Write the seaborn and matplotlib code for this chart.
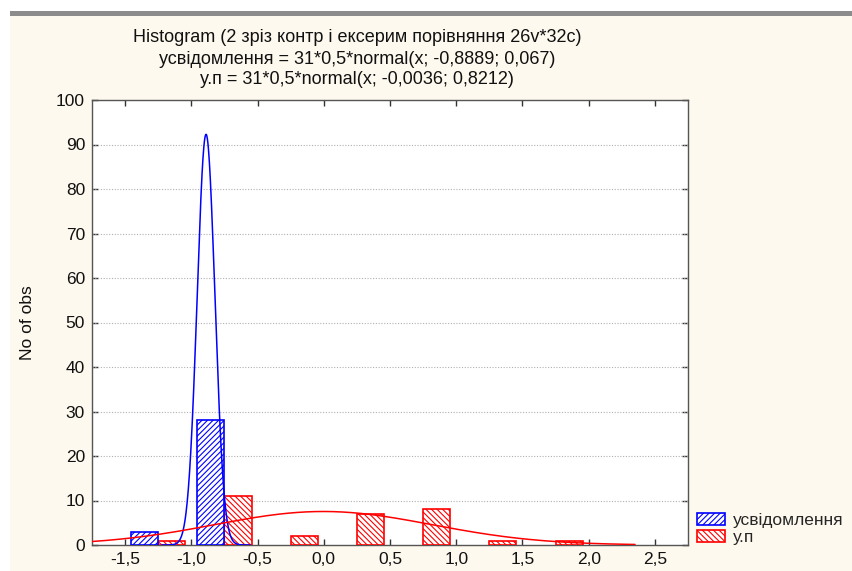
import numpy as np
import pandas as pd
import matplotlib
matplotlib.use("Agg")
import matplotlib.pyplot as plt
import seaborn as sns
from matplotlib.patches import Patch, Rectangle
from matplotlib.ticker import FuncFormatter

# ---- data ----
bin_edges = [-1.5, -1.0, -0.5, 0.0, 0.5, 1.0, 1.5, 2.0, 2.5]
bin_centers = [-1.25, -0.75, -0.25, 0.25, 0.75, 1.25, 1.75, 2.25]
counts_usv = [3, 28, 0, 0, 0, 0, 0, 0]     # усвідомлення
counts_up = [1, 11, 2, 7, 8, 1, 1, 0]      # у.п
series_names = ["усвідомлення", "у.п"]
series_colors = ["#0000FF", "#FF0000"]
series_hatches = ["//////", "\\\\\\\\\\\\"]
fit_n = 31
fit_binw = 0.5
fit_mean = [-0.8889, -0.0036]
fit_sd = [0.067, 0.8212]
title_lines = [
    "Histogram (2 зріз контр і ексерим порівняння 26v*32c)",
    "усвідомлення = 31*0,5*normal(x; -0,8889; 0,067)",
    "у.п = 31*0,5*normal(x; -0,0036; 0,8212)",
]
x_ticks = [-1.5, -1.0, -0.5, 0.0, 0.5, 1.0, 1.5, 2.0, 2.5]
y_ticks = list(range(0, 101, 10))
y_label = "No of obs"

# ---- style ----
sns.set_style("white")
plt.rcParams["font.family"] = ["Liberation Sans", "DejaVu Sans"]
plt.rcParams["hatch.linewidth"] = 0.8

W, H = 853, 571
fig = plt.figure(figsize=(W / 100, H / 100), dpi=100)
fig.patch.set_facecolor("white")
# cream background panel and top grey band
fig.patches.append(Rectangle((10 / W, 0), 1, 1 - 16 / H, transform=fig.transFigure,
                             facecolor="#FEF9EE", edgecolor="none", zorder=-10))
fig.patches.append(Rectangle((10 / W, 1 - 16 / H), 1, 5 / H, transform=fig.transFigure,
                             facecolor="#8C8C8C", edgecolor="none", zorder=-10))

ax = fig.add_axes([92 / W, 1 - 545 / H, (688 - 92) / W, (545 - 100) / H])
ax.set_facecolor("white")

df = pd.DataFrame({
    "x": bin_centers * 2,
    "n": counts_usv + counts_up,
    "s": [series_names[0]] * len(bin_centers) + [series_names[1]] * len(bin_centers),
})
sns.histplot(data=df, x="x", weights="n", hue="s", hue_order=series_names,
             bins=bin_edges, multiple="dodge", shrink=0.82,
             palette=series_colors, alpha=1, legend=False, ax=ax, zorder=3)

blue = np.array(matplotlib.colors.to_rgba(series_colors[0]))
for p in ax.patches:
    fc = np.array(p.get_facecolor())
    idx = 0 if np.allclose(fc[:3], blue[:3], atol=0.05) else 1
    p.set_facecolor("white")
    p.set_edgecolor(series_colors[idx])
    p.set_hatch(series_hatches[idx])
    p.set_linewidth(1.2)
    if p.get_height() == 0:
        p.set_visible(False)

# fitted normal curves
for i in range(2):
    m, s = fit_mean[i], fit_sd[i]
    lo = max(-1.75, m - 5 * s)
    hi = min(2.35, m + 5 * s)
    xs = np.linspace(lo, hi, 300)
    ys = fit_n * fit_binw * np.exp(-0.5 * ((xs - m) / s) ** 2) / (s * np.sqrt(2 * np.pi))
    sns.lineplot(x=xs, y=ys, color=series_colors[i], linewidth=1.1, ax=ax, zorder=4)

ax.set_xlim(-1.75, 2.75)
ax.set_ylim(0, 100)
ax.set_xticks(x_ticks)
ax.set_yticks(y_ticks)
ax.xaxis.set_major_formatter(FuncFormatter(lambda v, p: f"{v:.1f}".replace(".", ",")))
ax.yaxis.set_major_formatter(FuncFormatter(lambda v, p: f"{int(round(v))}"))
ax.set_xlabel("")
ax.set_ylabel(y_label, fontsize=12.5, color="#111111")
ax.yaxis.set_label_coords(-0.096, 0.5)

for yv in y_ticks[1:-1]:
    ax.axhline(yv, color="#B0B0B0", linestyle=(0, (1, 1.5)), linewidth=0.8, zorder=1)

ax.tick_params(axis="both", which="both", direction="in", length=4, width=1,
               color="#333333", labelsize=12.5, labelcolor="#111111",
               top=True, right=True, bottom=True, left=True, pad=5)
for sp in ax.spines.values():
    sp.set_visible(True)
    sp.set_color("#555555")
    sp.set_linewidth(1.0)

# title lines
tx = 357 / W
for yy, t in zip([37, 60, 80], title_lines):
    fig.text(tx, 1 - yy / H, t, ha="center", va="center", fontsize=13, color="#111111")

# legend
handles = [Patch(facecolor="white", edgecolor=series_colors[i], hatch=series_hatches[i],
                 linewidth=1.2, label=series_names[i]) for i in range(2)]
fig.legend(handles=handles, loc="upper left", bbox_to_anchor=(697 / W, 1 - 513 / H),
           frameon=False, fontsize=12.5, handlelength=1.6, handleheight=0.7,
           handletextpad=0.45, labelspacing=0.12, borderpad=0, borderaxespad=0)

fig.savefig("out.png", dpi=100, facecolor=fig.get_facecolor())
